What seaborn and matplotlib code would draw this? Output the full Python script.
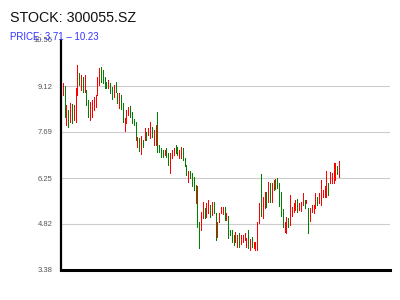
import numpy as np
import pandas as pd
import seaborn as sns
import matplotlib
matplotlib.use("Agg")
import matplotlib.pyplot as plt

# ---- data (open / close of each bar) ----
opens = [8.84, 9.12, 7.90, 8.37, 8.00, 8.56, 8.06, 8.00, 8.84, 9.53,
         9.00, 9.41, 8.93, 9.00, 8.69, 8.06, 8.16, 8.37, 8.47, 8.84,
         9.16, 9.72, 9.62, 9.41, 9.25, 9.06, 9.22, 9.09, 8.78, 9.25,
         8.90, 8.43, 8.84, 8.59, 7.72, 7.97, 8.22, 8.50, 8.31, 8.09,
         8.00, 7.22, 7.50, 7.00, 7.44, 7.44, 7.69, 7.59, 7.50, 7.84,
         7.28, 7.28, 8.31, 7.28, 7.19, 7.12, 6.97, 7.19, 7.03, 6.40,
         6.87, 6.97, 7.28, 7.22, 6.87, 6.87, 7.19, 6.87, 6.65, 6.13,
         6.46, 6.40, 6.28, 5.47, 6.00, 4.87, 4.62, 5.00, 5.31, 5.03,
         5.15, 5.40, 5.09, 5.50, 5.15, 4.40, 4.87, 5.15, 5.12, 5.34,
         4.93, 5.06, 4.62, 4.62, 4.47, 4.25, 4.09, 4.53, 4.18, 4.25,
         4.31, 4.09, 4.62, 4.00, 4.40, 4.06, 4.00, 4.00, 4.84, 6.37,
         5.00, 5.31, 5.81, 5.50, 6.09, 5.50, 6.19, 5.91, 6.25, 6.09,
         5.81, 5.28, 4.56, 4.53, 5.00, 4.78, 5.06, 5.18, 5.25, 5.59,
         5.25, 5.22, 5.40, 5.56, 5.47, 5.31, 4.90, 5.18, 5.15, 5.31,
         5.65, 5.47, 5.40, 5.65, 5.65, 5.65, 6.09, 6.09, 6.09, 6.09,
         6.19, 6.62, 6.28]
closes = [9.22, 8.16, 8.53, 7.84, 8.59, 7.97, 8.53, 9.06, 9.78, 9.16,
          9.47, 8.93, 9.47, 8.53, 8.16, 8.62, 8.69, 8.78, 8.84, 9.41,
          9.69, 9.25, 9.22, 9.06, 9.06, 9.31, 8.90, 8.72, 9.16, 8.93,
          8.59, 8.90, 8.40, 8.00, 8.12, 8.37, 8.47, 8.16, 7.97, 7.90,
          7.44, 7.53, 7.09, 7.56, 7.22, 7.81, 7.44, 7.81, 8.00, 7.53,
          7.75, 7.90, 7.06, 7.06, 6.90, 6.90, 7.12, 6.90, 6.65, 7.03,
          7.12, 7.19, 7.03, 6.97, 7.12, 7.22, 6.81, 6.62, 6.34, 6.46,
          6.25, 6.00, 5.87, 6.03, 4.72, 4.06, 5.18, 5.50, 5.00, 5.47,
          5.56, 5.03, 5.50, 5.15, 4.31, 4.87, 5.15, 5.34, 5.34, 4.93,
          5.15, 4.37, 4.47, 4.25, 4.15, 4.56, 4.47, 4.09, 4.47, 4.47,
          4.53, 4.37, 4.06, 4.34, 4.09, 4.25, 4.25, 4.87, 5.47, 5.06,
          5.65, 5.81, 5.34, 6.13, 5.50, 6.09, 5.87, 6.22, 5.94, 5.37,
          5.06, 4.72, 4.87, 5.03, 4.72, 5.72, 5.34, 5.47, 5.56, 5.18,
          5.47, 5.50, 5.78, 5.31, 5.56, 4.53, 5.31, 5.40, 5.40, 5.78,
          5.40, 5.78, 6.19, 5.87, 6.00, 6.46, 5.72, 6.43, 6.40, 6.72,
          6.72, 6.37, 6.78]
y_ticks = [3.38, 4.82, 6.25, 7.69, 9.12, 10.56]
title_text = "STOCK: 300055.SZ"
subtitle_text = "PRICE: 3.71 \u2013 10.23"

# ---- long-form table: two points per bar ----
rows = []
for i, (o, c) in enumerate(zip(opens, closes)):
    d = "up" if c >= o else "down"
    rows.append({"idx": i, "price": o, "dir": d})
    rows.append({"idx": i, "price": c, "dir": d})
df = pd.DataFrame(rows)

sns.set_theme(style="white")
plt.rcParams["font.family"] = ["Liberation Sans", "DejaVu Sans"]

fig = plt.figure(figsize=(4, 3), dpi=100)
ax = fig.add_axes([0.1525, 0.1, 0.8225, 0.7667])

for t in y_ticks[1:-1]:
    ax.axhline(t, color="#cccccc", lw=0.8, zorder=0)

sns.lineplot(data=df, x="idx", y="price", units="idx", estimator=None,
             hue="dir", palette={"up": "#ff0000", "down": "#008000"},
             lw=0.5, legend=False, ax=ax, sort=False, antialiased=False)

ax.set_xlim(-1, 180)
ax.set_ylim(y_ticks[0], y_ticks[-1])
ax.set_yticks(y_ticks)
ax.set_yticklabels([f"{t:.2f}" for t in y_ticks], fontsize=5.5, color="#555555")
ax.set_xticks([])
ax.set_xlabel("")
ax.set_ylabel("")
ax.tick_params(axis="y", length=0, pad=6)

for s in ["top", "right"]:
    ax.spines[s].set_visible(False)
ax.spines["left"].set_color("black")
ax.spines["left"].set_linewidth(1.6)
ax.spines["bottom"].set_color("black")
ax.spines["bottom"].set_linewidth(2.2)

fig.text(10 / 400, 1 - 18 / 300, title_text, fontsize=10.3, color="#111111",
         va="center", ha="left")
fig.text(10 / 400, 1 - 37 / 300, subtitle_text, fontsize=7, color="#3333ff",
         va="center", ha="left")

fig.savefig("out.png", dpi=100)
